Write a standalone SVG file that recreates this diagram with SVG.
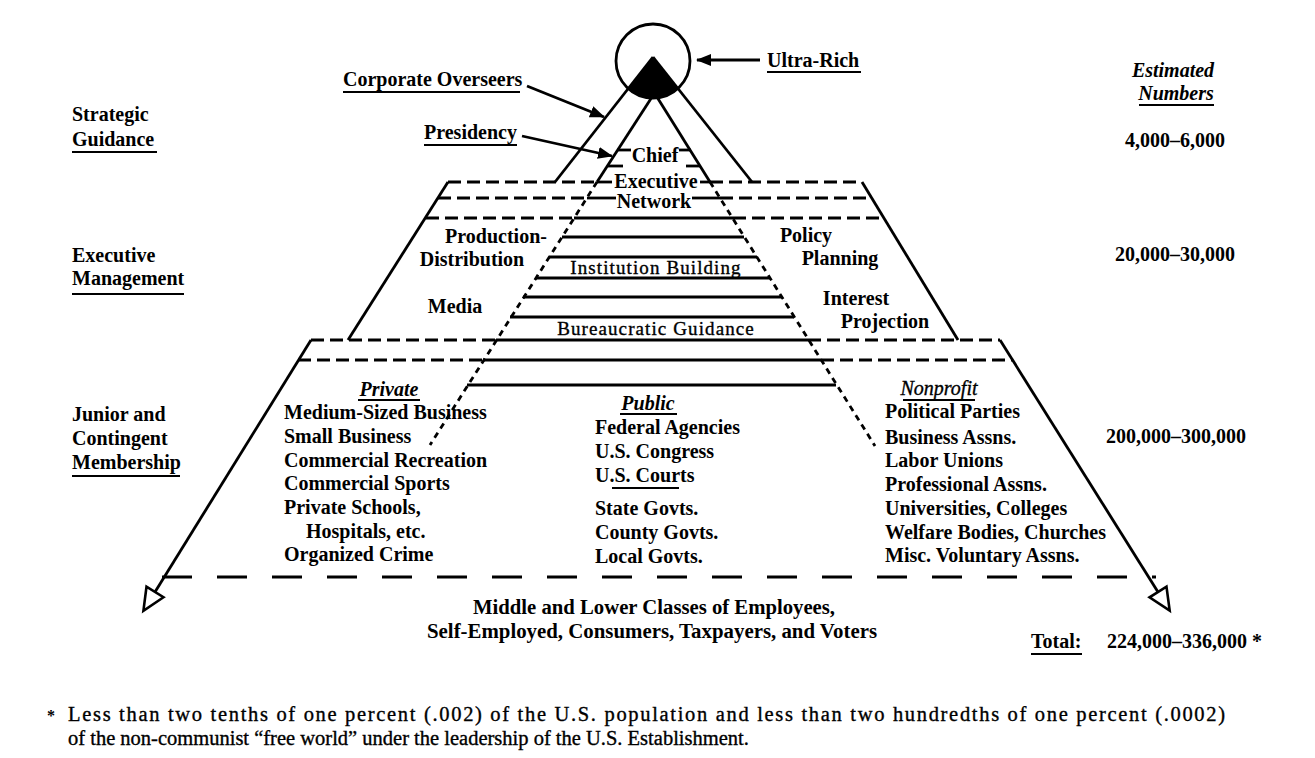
<svg xmlns="http://www.w3.org/2000/svg" width="1315" height="758" viewBox="0 0 1315 758">
<style>
.t{font-family:"Liberation Serif","Times New Roman",serif;font-weight:bold;font-size:20px;fill:#000}
.it{font-style:italic}
.rg{font-weight:normal}
.dk{stroke:#000;stroke-width:0.35}
.mid{text-anchor:middle}
.ln{stroke:#000;stroke-width:2.8;fill:none;stroke-linecap:butt}
.ul{stroke:#000;stroke-width:2;fill:none}
.ds{stroke-dasharray:13 6}
.dd{stroke-dasharray:6 5}
.ld{stroke-dasharray:30 25}
.fn{font-size:20.5px}
</style>
<defs>
<marker id="arr" markerUnits="userSpaceOnUse" markerWidth="16" markerHeight="12" refX="14" refY="6" orient="auto">
<path d="M0,0 L15,6 L0,12 Z" fill="#000"/>
</marker>
<marker id="open" markerUnits="userSpaceOnUse" markerWidth="30" markerHeight="28" refX="3" refY="14" orient="auto">
<path d="M3,4 L25,14 L3,24 Z" fill="#fff" stroke="#000" stroke-width="2.6"/>
</marker>
</defs>
<rect width="1315" height="758" fill="#fff"/>

<g id="apex">
<circle cx="653" cy="61" r="37" class="ln"/>
<path d="M653,57 L628.3,88.5 A37,37 0 0,0 677.7,88.5 Z" fill="#000"/>
<line x1="653" y1="57" x2="555" y2="182" class="ln"/>
<line x1="653" y1="57" x2="752" y2="182" class="ln"/>
</g>

<g id="chief-executive-network">
<line x1="652" y1="97" x2="597" y2="182" class="ln"/>
<line x1="657" y1="97" x2="710" y2="182" class="ln"/>
<line x1="597" y1="182" x2="430" y2="445" class="ln dd"/>
<line x1="710" y1="182" x2="875" y2="446" class="ln dd"/>
<line x1="617" y1="150" x2="631" y2="150" class="ln"/>
<line x1="679" y1="150" x2="691" y2="150" class="ln"/>
<line x1="608" y1="166" x2="623" y2="166" class="ln"/>
<line x1="686" y1="166" x2="700" y2="166" class="ln"/>
<text x="655" y="162" class="t mid">Chief</text>
<text x="656" y="188" class="t mid">Executive</text>
<text x="654" y="208" class="t mid">Network</text>
<line x1="448" y1="182" x2="597" y2="182" class="ln ds"/>
<line x1="597" y1="182" x2="612" y2="182" class="ln"/>
<line x1="700" y1="182" x2="710" y2="182" class="ln"/>
<line x1="710" y1="182" x2="862" y2="182" class="ln ds"/>
<line x1="438" y1="198" x2="587" y2="198" class="ln ds"/>
<line x1="587" y1="198" x2="616" y2="198" class="ln"/>
<line x1="692" y1="198" x2="720" y2="198" class="ln"/>
<line x1="720" y1="198" x2="872" y2="198" class="ln ds"/>
</g>

<g id="executive-management">
<line x1="448" y1="182" x2="348" y2="340" class="ln"/>
<line x1="862" y1="182" x2="958" y2="340" class="ln"/>
<line x1="426" y1="218" x2="574" y2="218" class="ln ds"/>
<line x1="574" y1="218" x2="733" y2="218" class="ln"/>
<line x1="733" y1="218" x2="884" y2="218" class="ln ds"/>
<line x1="562" y1="237" x2="744" y2="237" class="ln"/>
<line x1="549" y1="257" x2="757" y2="257" class="ln"/>
<line x1="536" y1="278" x2="770" y2="278" class="ln"/>
<line x1="523" y1="297" x2="782" y2="297" class="ln"/>
<line x1="510" y1="317" x2="794" y2="317" class="ln"/>
<text x="496" y="243" class="t mid">Production-</text>
<text x="472" y="266" class="t mid">Distribution</text>
<text x="455" y="313" class="t mid">Media</text>
<text x="806" y="242" class="t mid">Policy</text>
<text x="840" y="265" class="t mid">Planning</text>
<text x="856" y="305" class="t mid">Interest</text>
<text x="885" y="328" class="t mid">Projection</text>
<text x="656" y="274" class="t rg dk mid" style="font-size:19px;letter-spacing:1.1px">Institution Building</text>
<text x="656" y="335" class="t rg dk mid" style="font-size:19px;letter-spacing:1.1px">Bureaucratic Guidance</text>
</g>

<g id="junior-membership">
<line x1="311" y1="340" x2="496" y2="340" class="ln ds"/>
<line x1="496" y1="340" x2="808" y2="340" class="ln"/>
<line x1="808" y1="340" x2="1000" y2="340" class="ln ds"/>
<line x1="298" y1="360" x2="483" y2="360" class="ln ds"/>
<line x1="483" y1="360" x2="821" y2="360" class="ln"/>
<line x1="821" y1="360" x2="1013" y2="360" class="ln ds"/>
<line x1="467" y1="385" x2="836" y2="385" class="ln"/>
<line x1="311" y1="340" x2="155" y2="592" class="ln" marker-end="url(#open)"/>
<line x1="1000" y1="340" x2="1158" y2="592" class="ln" marker-end="url(#open)"/>
<line x1="162" y1="577" x2="1156" y2="577" class="ln ld"/>
</g>

<g id="private">
<text x="389" y="396" class="t it mid">Private</text>
<line x1="358" y1="400" x2="420" y2="400" class="ul"/>
<text x="284" y="419" class="t">Medium-Sized Business</text>
<text x="284" y="443" class="t">Small Business</text>
<text x="284" y="467" class="t">Commercial Recreation</text>
<text x="284" y="490" class="t">Commercial Sports</text>
<text x="284" y="514" class="t">Private Schools,</text>
<text x="306" y="538" class="t">Hospitals, etc.</text>
<text x="284" y="561" class="t">Organized Crime</text>
</g>

<g id="public">
<text x="648" y="410" class="t it mid">Public</text>
<line x1="620" y1="414" x2="677" y2="414" class="ul"/>
<text x="595" y="434" class="t">Federal Agencies</text>
<text x="595" y="458" class="t">U.S. Congress</text>
<text x="595" y="482" class="t">U.S. Courts</text>
<line x1="612" y1="488" x2="679" y2="488" class="ul"/>
<text x="595" y="515" class="t">State Govts.</text>
<text x="595" y="539" class="t">County Govts.</text>
<text x="595" y="563" class="t">Local Govts.</text>
</g>

<g id="nonprofit">
<text x="939" y="395" class="t it rg dk mid">Nonprofit</text>
<line x1="903" y1="400" x2="975" y2="400" class="ul"/>
<text x="885" y="418" class="t">Political Parties</text>
<text x="885" y="444" class="t">Business Assns.</text>
<text x="885" y="467" class="t">Labor Unions</text>
<text x="885" y="491" class="t">Professional Assns.</text>
<text x="885" y="515" class="t">Universities, Colleges</text>
<text x="885" y="539" class="t">Welfare Bodies, Churches</text>
<text x="885" y="562" class="t">Misc. Voluntary Assns.</text>
</g>

<g id="base">
<text x="654" y="614" class="t mid" textLength="362" lengthAdjust="spacingAndGlyphs">Middle and Lower Classes of Employees,</text>
<text x="652" y="638" class="t mid" textLength="450" lengthAdjust="spacingAndGlyphs">Self-Employed, Consumers, Taxpayers, and Voters</text>
</g>

<g id="callouts">
<text x="767" y="67" class="t">Ultra-Rich</text>
<line x1="767" y1="72" x2="861" y2="72" class="ul"/>
<text x="343" y="86" class="t">Corporate Overseers</text>
<line x1="343" y1="92" x2="520" y2="92" class="ul"/>
<text x="424" y="139" class="t">Presidency</text>
<line x1="424" y1="145" x2="517" y2="145" class="ul"/>
</g>

<g id="connectors">
<line x1="760" y1="60" x2="697" y2="60" class="ln" marker-end="url(#arr)"/>
<line x1="527" y1="86" x2="604" y2="117" class="ln" marker-end="url(#arr)"/>
<line x1="522" y1="136" x2="612" y2="156" class="ln" marker-end="url(#arr)"/>
</g>

<g id="levels">
<text x="72" y="121" class="t">Strategic</text>
<text x="72" y="146" class="t">Guidance</text>
<line x1="72" y1="152" x2="157" y2="152" class="ul"/>
<text x="72" y="262" class="t">Executive</text>
<text x="72" y="285" class="t">Management</text>
<line x1="72" y1="294" x2="184" y2="294" class="ul"/>
<text x="72" y="421" class="t">Junior and</text>
<text x="72" y="445" class="t">Contingent</text>
<text x="72" y="469" class="t">Membership</text>
<line x1="72" y1="476" x2="180" y2="476" class="ul"/>
</g>

<g id="numbers">
<text x="1173" y="77" class="t it mid">Estimated</text>
<text x="1176" y="100" class="t it mid">Numbers</text>
<line x1="1139" y1="105" x2="1214" y2="105" class="ul"/>
<text x="1175" y="147" class="t mid">4,000–6,000</text>
<text x="1175" y="261" class="t mid">20,000–30,000</text>
<text x="1176" y="443" class="t mid">200,000–300,000</text>
<text x="1031" y="648" class="t">Total:</text>
<line x1="1031" y1="654" x2="1082" y2="654" class="ul"/>
<text x="1107" y="648" class="t">224,000–336,000 *</text>
</g>

<g id="footnote">
<text x="47" y="721" class="t" style="font-size:16px">*</text>
<text x="68" y="721" class="t rg dk fn" textLength="1157" lengthAdjust="spacing">Less than two tenths of one percent (.002) of the U.S. population and less  than two hundredths of one percent (.0002)</text>
<text x="68" y="745" class="t rg dk fn">of the non-communist “free  world” under the leadership of the U.S. Establishment.</text>
</g>
</svg>
